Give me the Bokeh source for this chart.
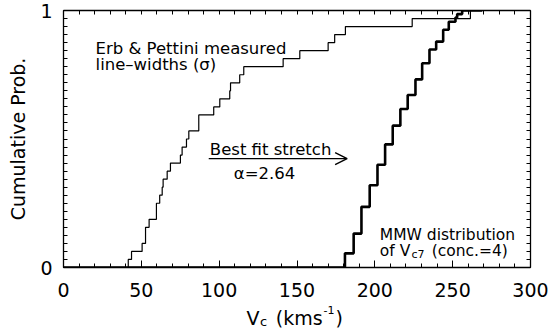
from bokeh.plotting import figure
from bokeh.layouts import column
from bokeh.models import (Range1d, FixedTicker, LinearAxis, Label, Arrow, OpenHead)
from bokeh.embed import file_html
from bokeh.resources import INLINE

# ---- data ----
# Erb & Pettini measured line-widths (sorted velocities, km/s), 32 galaxies
erb_v = [41.6, 43.7, 50.5, 52.7, 52.7, 55.0, 59.7, 59.7, 61.8, 63.4, 64.0,
         66.6, 68.7, 75.1, 76.2, 79.0, 80.5, 86.9, 86.9, 96.5, 100.4, 106.8,
         107.3, 113.2, 115.8, 141.1, 151.8, 170.0, 174.2, 181.1, 224.0, 261.4]
erb_p = [(i + 1) / len(erb_v) for i in range(len(erb_v))]

# MMW distribution of Vc7 (conc.=4): step positions and cumulative levels
mmw_v = [0.0, 180.8, 186.4, 191.4, 196.7, 201.7, 206.6, 211.5, 216.4, 221.1,
         226.1, 230.4, 235.1, 239.4, 243.9, 247.5, 251.8, 252.9, 256.1, 269.0]
mmw_p = [0.0, 0.055, 0.132, 0.236, 0.320, 0.400, 0.479, 0.552, 0.617, 0.671,
         0.732, 0.795, 0.848, 0.879, 0.925, 0.956, 0.973, 0.986, 1.0, 1.0]

x_ticks = [0, 50, 100, 150, 200, 250, 300]
x_minor = list(range(0, 301, 10))
y_ticks = [0, 1]
y_minor = [i / 32 for i in range(33)]

FONT = "DejaVu Sans"

xr = Range1d(0, 300)
p = figure(width=551, height=300, x_range=xr, y_range=Range1d(0, 1),
           output_backend="svg", toolbar_location=None,
           min_border_left=63, min_border_right=21, min_border_top=10,
           min_border_bottom=33)
p.xgrid.visible = False
p.ygrid.visible = False
p.outline_line_color = None


def style(ax):
    ax.axis_line_color = "black"
    ax.axis_line_width = 1.3
    ax.major_tick_in = 7
    ax.major_tick_out = 0
    ax.minor_tick_in = 4
    ax.minor_tick_out = 0
    ax.major_tick_line_color = "black"
    ax.minor_tick_line_color = "black"
    ax.major_tick_line_width = 1
    ax.minor_tick_line_width = 1
    ax.major_label_text_font = FONT
    ax.major_label_text_font_size = "19px"
    ax.major_label_text_color = "black"


p.xaxis.ticker = FixedTicker(ticks=x_ticks, minor_ticks=x_minor)
p.yaxis.ticker = FixedTicker(ticks=y_ticks, minor_ticks=y_minor)
style(p.xaxis[0])
style(p.yaxis[0])
p.xaxis.major_label_standoff = 15
p.yaxis.major_label_standoff = 11
p.yaxis.axis_label = "Cumulative Prob."
p.yaxis.axis_label_text_font = FONT
p.yaxis.axis_label_text_font_size = "19px"
p.yaxis.axis_label_text_font_style = "normal"
p.yaxis.axis_label_text_color = "black"
p.yaxis.axis_label_standoff = 8

# top and right box sides: tick marks only, no labels
top = LinearAxis(ticker=FixedTicker(ticks=[], minor_ticks=x_minor))
style(top)
p.add_layout(top, "above")
right = LinearAxis(ticker=FixedTicker(ticks=[], minor_ticks=y_minor))
style(right)
p.add_layout(right, "right")

# ---- curves ----
p.step([0.0] + erb_v + [300.0], [0.0] + erb_p + [1.0], mode="after",
       line_color="black", line_width=1.2)
p.step(mmw_v, mmw_p, mode="after", line_color="black", line_width=2.6)


# ---- annotations ----
def lab(fig, x, y, text, size="16px"):
    fig.add_layout(Label(x=x, y=y, text=text, text_font=FONT, text_font_size=size,
                         text_color="black", text_align="left",
                         text_baseline="alphabetic"))


lab(p, 20.6, 0.851, "Erb & Pettini measured", "16.5px")
lab(p, 20.6, 0.788, "line\u2013widths (\u03c3)", "16.5px")
lab(p, 94.0, 0.458, "Best fit stretch", "16.5px")
lab(p, 109.4, 0.364, "\u03b1=2.64", "16.5px")
lab(p, 203.2, 0.126, "MMW distribution", "15.5px")
lab(p, 203.2, 0.0656, "of V", "15.5px")
lab(p, 223.5, 0.050, "c7", "11px")
lab(p, 236.5, 0.0656, "(conc.=4)", "15.5px")

p.add_layout(Arrow(end=OpenHead(size=12, line_width=1.4, line_color="black"),
                   x_start=93.3, y_start=0.4236, x_end=182.2, y_end=0.4236,
                   line_width=1.4, line_color="black"))

# ---- x axis title strip: V_c (kms^-1) ----
p2 = figure(width=551, height=29, x_range=xr, y_range=Range1d(0, 29),
            output_backend="svg", toolbar_location=None,
            x_axis_location=None, y_axis_location=None,
            min_border_left=63, min_border_right=21, min_border_top=0,
            min_border_bottom=0)
p2.grid.visible = False
p2.outline_line_color = None

lab(p2, 117.6, 12, "V", "19px")
lab(p2, 126.2, 8, "c", "13px")
lab(p2, 136.4, 12, "(kms", "19px")
lab(p2, 167.0, 20, "-1", "11px")
lab(p2, 174.8, 12, ")", "19px")

layout = column(p, p2, spacing=0)
open("out.html", "w").write(file_html(layout, INLINE))
